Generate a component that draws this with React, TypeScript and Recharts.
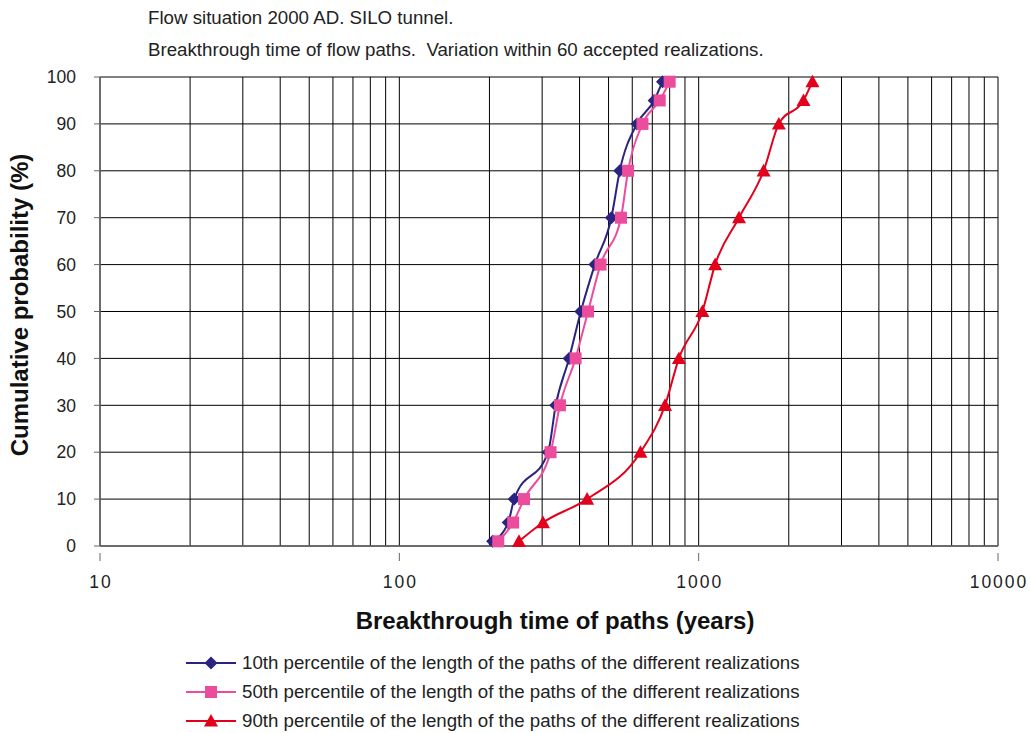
import React from 'react';
import { LineChart, Line, XAxis, YAxis, CartesianGrid } from 'recharts';

// Cumulative probability levels (%) shared by all three series
const probabilities = [1, 5, 10, 20, 30, 40, 50, 60, 70, 80, 90, 95, 99];

// Breakthrough times (years) for each percentile of path length
const p10Times = [205, 231, 242, 314, 333, 369, 404, 450, 511, 545, 622, 710, 757];
const p50Times = [214, 240, 261, 320, 344, 388, 427, 470, 550, 581, 649, 741, 800];
const p90Times = [251, 302, 424, 639, 772, 859, 1029, 1135, 1364, 1648, 1853, 2240, 2399];

const xTicks = [
  10, 20, 30, 40, 50, 60, 70, 80, 90,
  100, 200, 300, 400, 500, 600, 700, 800, 900,
  1000, 2000, 3000, 4000, 5000, 6000, 7000, 8000, 9000,
  10000,
];
const xLabels = [10, 100, 1000, 10000];
const yTicks = [0, 10, 20, 30, 40, 50, 60, 70, 80, 90, 100];

const seriesNames = [
  '10th percentile of the length of the paths of the different realizations',
  '50th percentile of the length of the paths of the different realizations',
  '90th percentile of the length of the paths of the different realizations',
];

const toRows = (times: number[]) => times.map((t, i) => ({ t, p: probabilities[i] }));

const NAVY = '#2A2382';
const PINK = '#EC4C9C';
const RED = '#E3001B';
const FONT = 'Arial, "Liberation Sans", Helvetica, sans-serif';

const Diamond = (props: any) => {
  const { cx, cy, fill } = props;
  if (cx == null || cy == null) return null;
  const r = 6.5;
  return <polygon points={`${cx},${cy - r} ${cx + r},${cy} ${cx},${cy + r} ${cx - r},${cy}`} fill={fill} />;
};

const Square = (props: any) => {
  const { cx, cy, fill } = props;
  if (cx == null || cy == null) return null;
  const r = 6;
  return <rect x={cx - r} y={cy - r} width={2 * r} height={2 * r} fill={fill} />;
};

const Triangle = (props: any) => {
  const { cx, cy, fill } = props;
  if (cx == null || cy == null) return null;
  const r = 7;
  return <polygon points={`${cx},${cy - r} ${cx + r},${cy + r * 0.8} ${cx - r},${cy + r * 0.8}`} fill={fill} />;
};

const XTick = (props: any) => {
  const { x, y, payload } = props;
  if (!xLabels.includes(payload.value)) return null;
  return (
    <g>
      <line x1={x} x2={x} y1={y - 1} y2={y + 7} stroke="#666" strokeWidth={1} />
      <text
        x={x + 1}
        y={y + 34}
        textAnchor="middle"
        fill="#222"
        fontSize={17.5}
        fontFamily={FONT}
        letterSpacing={2}
      >
        {payload.value}
      </text>
    </g>
  );
};

const legendItems = [
  { name: seriesNames[0], color: NAVY, Marker: Diamond },
  { name: seriesNames[1], color: PINK, Marker: Square },
  { name: seriesNames[2], color: RED, Marker: Triangle },
];

const ChartLegend = () => (
  <div
    style={{
      position: 'absolute',
      left: 186,
      top: 648,
      fontFamily: FONT,
      fontSize: 18.7,
      color: '#222',
    }}
  >
    {legendItems.map(({ name, color, Marker }) => (
      <div key={name} style={{ display: 'flex', alignItems: 'center', height: 29, whiteSpace: 'nowrap' }}>
        <svg width={56} height={16}>
          <line x1={0} x2={50} y1={8} y2={8} stroke={color} strokeWidth={2} />
          <Marker cx={25} cy={8} fill={color} />
        </svg>
        <span>{name}</span>
      </div>
    ))}
  </div>
);

export default function App() {
  return (
    <div
      style={{
        position: 'fixed',
        left: 0,
        top: 0,
        width: 1031,
        height: 733,
        overflow: 'hidden',
        background: '#fff',
        fontFamily: FONT,
      }}
    >
      <div style={{ position: 'absolute', left: 148, top: 7, fontSize: 18.7, color: '#222', whiteSpace: 'nowrap' }}>
        Flow situation 2000 AD. SILO tunnel.
      </div>
      <div style={{ position: 'absolute', left: 148, top: 39, fontSize: 18.7, color: '#222', whiteSpace: 'nowrap' }}>
        Breakthrough time of flow paths.&nbsp; Variation within 60 accepted realizations.
      </div>
      <div
        style={{
          position: 'absolute',
          left: 20,
          top: 305,
          transform: 'translate(-50%, -50%) rotate(-90deg)',
          whiteSpace: 'nowrap',
          fontSize: 24,
          fontWeight: 'bold',
          color: '#111',
        }}
      >
        Cumulative probability (%)
      </div>
      <div
        style={{
          position: 'absolute',
          left: 555,
          top: 621,
          transform: 'translate(-50%, -50%)',
          whiteSpace: 'nowrap',
          fontSize: 24,
          fontWeight: 'bold',
          color: '#111',
        }}
      >
        Breakthrough time of paths (years)
      </div>
      <LineChart
        width={1031}
        height={733}
        margin={{ top: 77, right: 33, bottom: 147, left: 40 }}
      >
        <CartesianGrid stroke="#000" strokeWidth={1} />
        <XAxis
          type="number"
          dataKey="t"
          scale="log"
          domain={[10, 10000]}
          ticks={xTicks}
          interval={0}
          allowDataOverflow
          height={40}
          axisLine={{ stroke: '#666', strokeWidth: 1.5 }}
          tickLine={false}
          tick={<XTick />}
        />
        <YAxis
          type="number"
          dataKey="p"
          domain={[0, 100]}
          ticks={yTicks}
          interval={0}
          width={60}
          axisLine={{ stroke: '#666', strokeWidth: 1.5 }}
          tickLine={{ stroke: '#666' }}
          tickSize={6}
          tickMargin={18}
          tick={{ fill: '#222', fontSize: 17.5, fontFamily: FONT }}
        />
        <Line
          name={seriesNames[0]}
          data={toRows(p10Times)}
          dataKey="p"
          type="monotone"
          stroke={NAVY}
          strokeWidth={2}
          dot={<Diamond fill={NAVY} />}
          activeDot={false}
          isAnimationActive={false}
        />
        <Line
          name={seriesNames[1]}
          data={toRows(p50Times)}
          dataKey="p"
          type="monotone"
          stroke={PINK}
          strokeWidth={2}
          dot={<Square fill={PINK} />}
          activeDot={false}
          isAnimationActive={false}
        />
        <Line
          name={seriesNames[2]}
          data={toRows(p90Times)}
          dataKey="p"
          type="monotone"
          stroke={RED}
          strokeWidth={2}
          dot={<Triangle fill={RED} />}
          activeDot={false}
          isAnimationActive={false}
        />
      </LineChart>
      <ChartLegend />
    </div>
  );
}
